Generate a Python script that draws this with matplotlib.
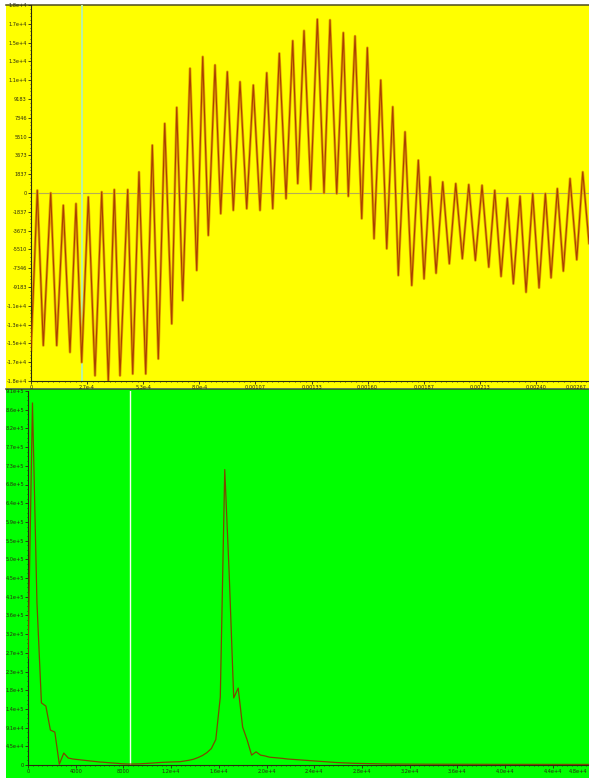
import matplotlib
matplotlib.use("Agg")
import matplotlib.pyplot as plt
import matplotlib.patches as patches
from matplotlib.lines import Line2D
from matplotlib.ticker import AutoMinorLocator
from matplotlib.transforms import ScaledTranslation
import numpy as np


# -----------------------------
# DATA
# -----------------------------

# upper trace: turning points of the sampled signal (microseconds, counts)
wave_t_us = [0, 30, 58.5, 93.7, 122.2, 153.6, 185.4, 213.9, 241, 272.4,
             304.3, 336.1, 367.5, 396, 423.1, 459.7, 483.5, 513.4, 545.3, 576.7,
             605.2, 635.6, 668.9, 692.7, 721.2, 755.9, 787.7, 816.3, 842.9, 874.7,
             901.8, 933.2, 961.7, 993.6, 1025.4, 1056.8, 1088.7, 1120.5, 1149, 1180.4,
             1212.3, 1244.1, 1267.9, 1297.8, 1329.7, 1361.1, 1392.9, 1421.4, 1453.3, 1484.7,
             1508.4, 1540.3, 1572.1, 1598.8, 1630.6, 1662.5, 1691, 1719.5, 1746.1, 1778,
             1809.8, 1841.2, 1868.3, 1896.8, 1925.4, 1957.2, 1988.6, 2019, 2050.4, 2080.8,
             2112.2, 2144, 2175.9, 2204.4, 2234.4, 2264.3, 2292.9, 2324.7, 2353.2, 2385,
             2415, 2445, 2472, 2502, 2530.5, 2562.4, 2594.2, 2622.7, 2652.7]

wave_v = [-15400, 260, -14900, 0, -14900, -1200, -15560, -1040, -16540, -390,
          -17840, 100, -18330, 330, -17840, 330, -17670, 2050, -17670, 4670,
          -16200, 6790, -12780, 8360, -10500, 12170, -7560, 13310, -4140, 12500,
          -2020, 11840, -1690, 10860, -1530, 10540, -1690, 11740, -1530, 13640,
          -550, 14870, 920, 15850, 330, 16970, 0, 16900, -60, 15660,
          -320, 15330, -2500, 14190, -4460, 11030, -5440, 8420, -8050, 5970,
          -9030, 3200, -8380, 1570, -7830, 1080, -6910, 920, -6420, 820,
          -6590, 750, -7240, 260, -8150, -490, -8870, -320, -9690, -60,
          -9260, -60, -8280, 430, -7630, 1410, -6520, 2050, -4920]

# lower trace: magnitude per FFT bin (thousands)
spec_k = [260, 880, 395, 151, 143, 85, 80, 2, 29, 17,
          14.6, 13.4, 12.2, 11, 9.7, 8.5, 7.3, 6.6, 5.6, 4.9,
          4.1, 3.0, 2.5, 2.2, 2.4, 2.8, 3.4, 4.2, 5.0, 5.8,
          6.4, 6.9, 7.3, 7.6, 8.0, 9.7, 11.5, 14, 18, 23,
          30, 40, 62, 165, 718, 462, 163, 187, 92, 61,
          24, 32, 24, 22, 19, 18, 17, 16, 14.6, 13.8,
          13, 12, 11.4, 10.7, 9.7, 9, 8, 7.3, 6.6, 6,
          5.6, 5.1, 4.6, 4.1, 3.9, 3.6, 3.4, 3.2, 2.9, 2.7,
          2.4, 2.3, 2.3, 2.2, 2.2, 2.1, 2.1, 2.0, 2.0, 2.0,
          1.9, 1.9, 1.9, 1.8, 1.8, 1.8, 1.8, 1.7, 1.7, 1.7,
          1.7, 1.7, 1.6, 1.6, 1.6, 1.6, 1.6, 1.6, 1.5, 1.5,
          1.5, 1.5, 1.5, 1.5, 1.5, 1.5, 1.5, 1.5, 1.5, 1.4,
          1.4, 1.4, 1.4, 1.4, 1.4, 1.4, 1.4, 1.4, 1.4]
bin_hz = 375.0

# cursor positions
cursor_t = 2.41e-4
cursor_f = 8550

# tick labels as shown
top_ystep = 1836.6
top_ylabels = ["-1.8e+4", "-1.7e+4", "-1.5e+4", "-1.3e+4", "-1.1e+4", "-9183",
               "-7346", "-5510", "-3673", "-1837", "0", "1837", "3673", "5510",
               "7346", "9183", "1.1e+4", "1.3e+4", "1.5e+4", "1.7e+4", "1.8e+4"]
top_xstep = 2.6667e-4
top_xlabels = ["0", "2.7e-4", "5.3e-4", "8.0e-4", "0.00107", "0.00133",
               "0.00160", "0.00187", "0.00213", "0.00240", "0.00267"]

bot_ystep = 45450
bot_ylabels = ["0", "4.5e+4", "9.1e+4", "1.4e+5", "1.8e+5", "2.3e+5", "2.7e+5",
               "3.2e+5", "3.6e+5", "4.1e+5", "4.5e+5", "5.0e+5", "5.5e+5",
               "5.9e+5", "6.4e+5", "6.8e+5", "7.3e+5", "7.7e+5", "8.2e+5",
               "8.6e+5", "9.1e+5"]
bot_xstep = 4000
bot_xlabels = ["0", "4000", "8000", "1.2e+4", "1.6e+4", "2.0e+4", "2.4e+4",
               "2.8e+4", "3.2e+4", "3.6e+4", "4.0e+4", "4.4e+4", "4.8e+4"]


W, H, DPI = 589, 778, 100
INK = "#2a2a10"
FS = 3.6


def px_rect(x0, y0, x1, y1):
    # pixel box (top-left origin) -> figure fraction rect
    return [x0 / W, 1 - y1 / H, (x1 - x0) / W, (y1 - y0) / H]


def style_axes(ax, xticks, xlabels, yticks, ylabels, xminor, yminor, last_shift):
    ax.set_facecolor("none")
    for side in ("top", "right"):
        ax.spines[side].set_visible(False)
    for side in ("left", "bottom"):
        ax.spines[side].set_color(INK)
        ax.spines[side].set_linewidth(0.8)

    ax.set_xticks(xticks)
    ax.set_xticklabels(xlabels)
    ax.set_yticks(yticks)
    ax.set_yticklabels(ylabels)
    ax.xaxis.set_minor_locator(AutoMinorLocator(xminor))
    ax.yaxis.set_minor_locator(AutoMinorLocator(yminor))

    ax.tick_params(which="major", length=2.2, width=0.6, color=INK,
                   labelsize=FS, labelcolor=INK, pad=0.8)
    ax.tick_params(which="minor", length=1.0, width=0.5, color=INK)

    # last x tick sits past the window edge: pull its label back inside
    last = ax.get_xticklabels()[-1]
    last.set_horizontalalignment("right")
    last.set_transform(last.get_transform() +
                       ScaledTranslation(-last_shift / DPI, 0, ax.figure.dpi_scale_trans))


# -----------------------------
# FIGURE
# -----------------------------
fig = plt.figure(figsize=(W / DPI, H / DPI), dpi=DPI)
fig.patch.set_facecolor("white")

# panel backgrounds
fig.add_artist(patches.Rectangle((6 / W, 1 - 388 / H), (W - 6) / W, (388 - 4.5) / H,
                                 transform=fig.transFigure, facecolor="#ffff00",
                                 edgecolor="none", zorder=-5))
fig.add_artist(patches.Rectangle((6 / W, 0), (W - 6) / W, 1 - 389 / H,
                                 transform=fig.transFigure, facecolor="#00ff00",
                                 edgecolor="none", zorder=-5))
fig.add_artist(Line2D([6 / W, 1], [1 - 4.5 / H] * 2, transform=fig.transFigure,
                      color="#4c4a1c", lw=1.1, zorder=-4))
fig.add_artist(Line2D([6 / W, 1], [1 - 389 / H] * 2, transform=fig.transFigure,
                      color="#3c4a1c", lw=1.1, zorder=-4))

# -----------------------------
# TOP: time signal
# -----------------------------
ax1 = fig.add_axes(px_rect(31, 5, 592, 381))
t = np.array(wave_t_us) * 1e-6
ax1.axhline(0, color="#b4ac58", lw=0.8, zorder=1)
ax1.axvline(cursor_t, color="#b8f2a8", lw=1.4, zorder=1)
ax1.plot(t, wave_v, color="#e2a200", lw=1.9, zorder=2)
ax1.plot(t, wave_v, color="#a84000", lw=0.8, zorder=3)

ax1.set_xlim(0, top_xstep * (len(top_xlabels) - 1))
ax1.set_ylim(-top_ystep * 10, top_ystep * 10)
style_axes(ax1,
           [i * top_xstep for i in range(len(top_xlabels))], top_xlabels,
           [(i - 10) * top_ystep for i in range(len(top_ylabels))], top_ylabels,
           10, 5, 5)

# -----------------------------
# BOTTOM: spectrum
# -----------------------------
ax2 = fig.add_axes(px_rect(28, 391, 600.4, 765))
freq = np.arange(len(spec_k)) * bin_hz
ax2.axvline(cursor_f, color="#f4fff0", lw=1.0, zorder=1)
ax2.plot(freq, np.array(spec_k) * 1e3, color="#7a4a00", lw=0.9, zorder=3)

ax2.set_xlim(0, bot_xstep * (len(bot_xlabels) - 1))
ax2.set_ylim(0, bot_ystep * (len(bot_ylabels) - 1))
style_axes(ax2,
           [i * bot_xstep for i in range(len(bot_xlabels))], bot_xlabels,
           [i * bot_ystep for i in range(len(bot_ylabels))], bot_ylabels,
           10, 4, 13)

fig.savefig("out.png", dpi=DPI)
plt.close(fig)
